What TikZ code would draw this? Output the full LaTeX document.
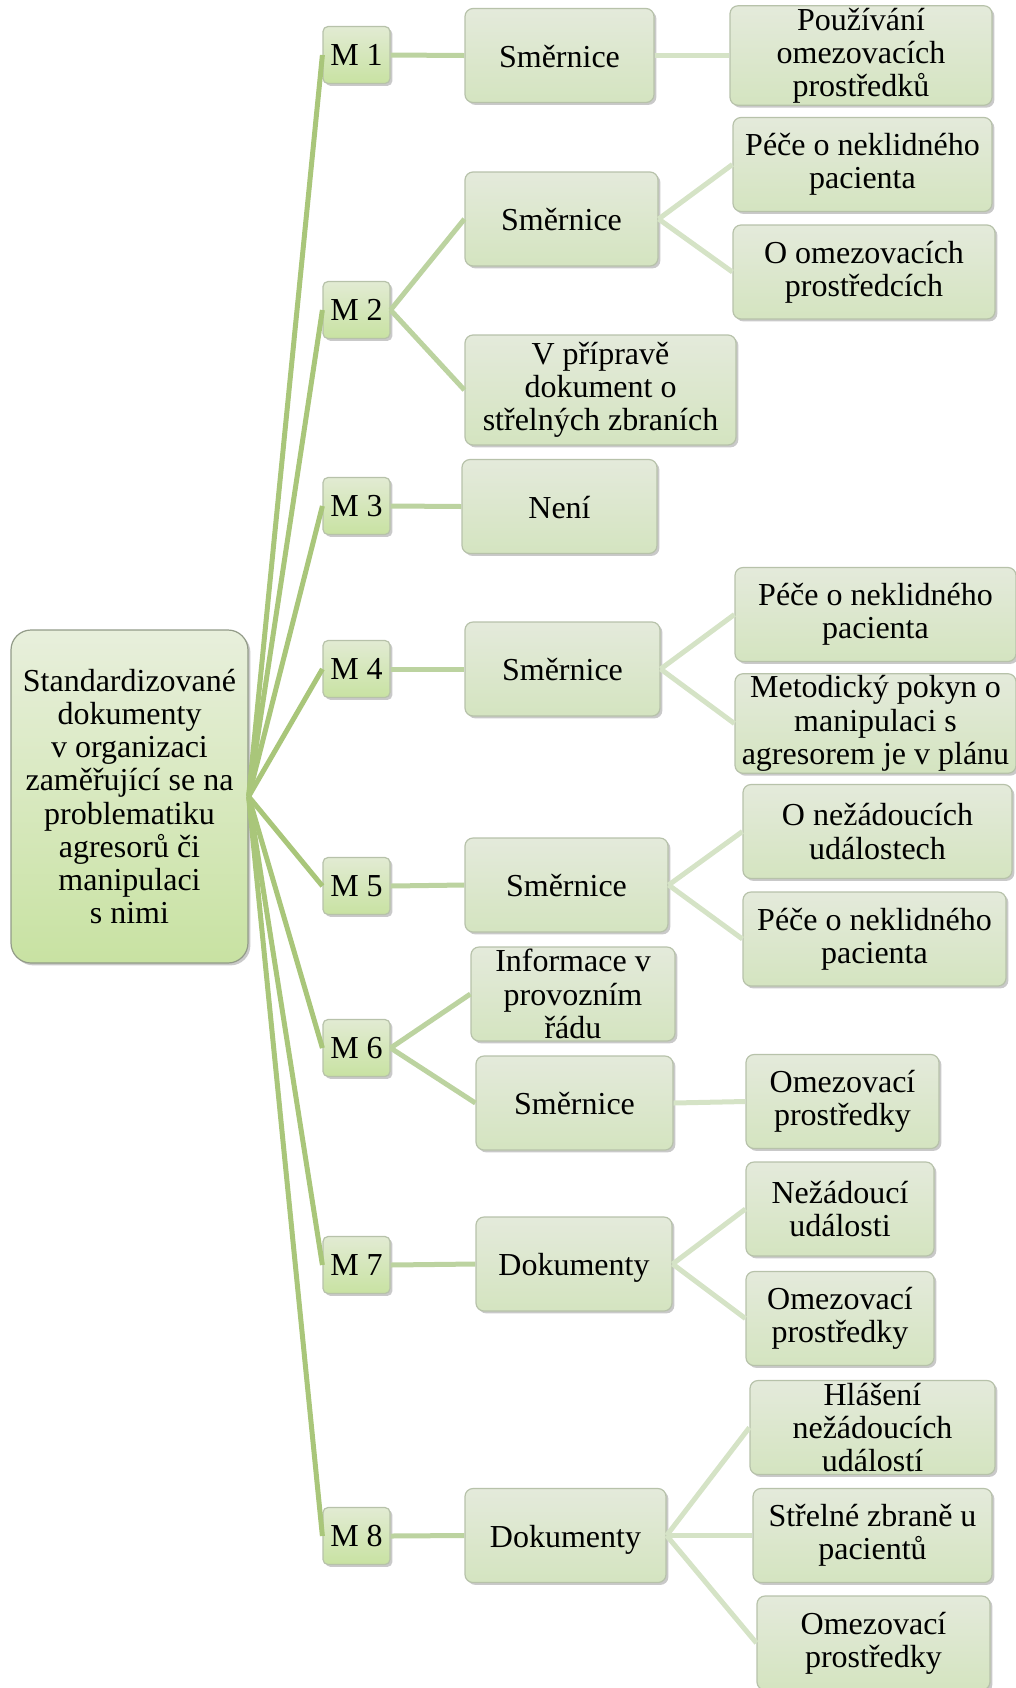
\documentclass[tikz,border=0pt]{standalone}
\usepackage{fontspec}
\setmainfont{Liberation Serif}
\usetikzlibrary{shadows}
\definecolor{rootline}{HTML}{A9C67A}
\definecolor{midline}{HTML}{BCD3A0}
\definecolor{leafline}{HTML}{D5E3C6}
\definecolor{boxtop}{HTML}{E4EADB}
\definecolor{boxbottom}{HTML}{D4E4C0}
\definecolor{boxedge}{HTML}{B7C2AA}
\definecolor{greentop}{HTML}{E2EBD3}
\definecolor{greenbottom}{HTML}{C8E2A2}
\begin{document}
\begin{tikzpicture}[x=0.5pt, y=-0.5pt,
	txt/.style={font=\fontsize{16}{16.6}\selectfont, align=center, inner sep=1pt},
	box/.style={txt, draw=boxedge, line width=0.6pt, rounded corners=4pt,
		top color=boxtop, bottom color=boxbottom, minimum height=47pt,
		drop shadow={shadow xshift=1.2pt, shadow yshift=-1.2pt, opacity=0.3, fill=black!70}},
	oneline/.style={text height=11.8pt, text depth=0pt},
	mbox/.style={box, top color=greentop, bottom color=greenbottom, rounded corners=2.5pt,
		minimum width=33.5pt, minimum height=28.5pt},
	rootbox/.style={box, top color=greentop!80!white, bottom color=greenbottom, rounded corners=10pt,
		draw=boxedge!80!black, minimum width=118.5pt, minimum height=166.5pt},
	rootedge/.style={draw=rootline, line width=2.5pt},
	midedge/.style={draw=midline, line width=2.5pt},
	leafedge/.style={draw=leafline, line width=2.5pt}]
	  \useasboundingbox (0,0) rectangle (1016,1688);
	  
	  \node[rootbox] (root) at (129.5,796.5) {Standardizované\\dokumenty\\v organizaci\\zaměřující se na\\problematiku\\agresorů či\\manipulaci\\s nimi};
	  
	  \node[mbox] (m1) at (356.5,55) {M 1};
	  \node[mbox] (m2) at (356.5,310) {M 2};
	  \node[mbox] (m3) at (356.5,506) {M 3};
	  \node[mbox] (m4) at (356.5,669) {M 4};
	  \node[mbox] (m5) at (356.5,886) {M 5};
	  \node[mbox] (m6) at (356.5,1048) {M 6};
	  \node[mbox] (m7) at (356.5,1265) {M 7};
	  \node[mbox] (m8) at (356.5,1536) {M 8};
	  
	  \node[box, oneline, minimum width=94.5pt] (a1) at (559.5,55.5) {Směrnice};
	  \node[box, oneline, minimum width=96.5pt] (a2) at (561.5,219) {Směrnice};
	  \node[box, minimum width=135.5pt, minimum height=55pt] (a3) at (600.5,390) {V přípravě\\dokument o\\střelných zbraních};
	  \node[box, oneline, minimum width=97.5pt] (a4) at (559.5,506.5) {Není};
	  \node[box, oneline, minimum width=97.5pt] (a5) at (562.5,669) {Směrnice};
	  \node[box, oneline, minimum width=101.5pt] (a6) at (566.5,885) {Směrnice};
	  \node[box, minimum width=102pt] (a7) at (573,994) {Informace v\\provozním\\řádu};
	  \node[box, oneline, minimum width=98.5pt] (a8) at (574.5,1103) {Směrnice};
	  \node[box, oneline, minimum width=98pt] (a9) at (574,1264) {Dokumenty};
	  \node[box, oneline, minimum width=100.5pt] (a10) at (565.5,1535.5) {Dokumenty};
	  
	  \node[box, minimum width=131pt] (b1) at (861,55.5) {Používání\\omezovacích\\prostředků};
	  \node[box, minimum width=129.5pt] (b2) at (862.5,164.5) {Péče o neklidného\\pacienta};
	  \node[box, minimum width=131pt] (b3) at (864,272) {O omezovacích\\prostředcích};
	  \node[box, minimum width=140.5pt] (b4) at (875.5,614.5) {Péče o neklidného\\pacienta};
	  \node[box, minimum width=140.5pt] (b5) at (875.5,723.5) {Metodický pokyn o\\manipulaci s\\agresorem je v plánu};
	  \node[box, minimum width=134.5pt] (b6) at (877.5,831.5) {O nežádoucích\\událostech};
	  \node[box, minimum width=131.5pt] (b7) at (874.5,939) {Péče o neklidného\\pacienta};
	  \node[box, minimum width=96.5pt] (b8) at (842.5,1101.5) {Omezovací\\prostředky};
	  \node[box, minimum width=94pt] (b9) at (840,1209) {Nežádoucí\\události};
	  \node[box, minimum width=94pt] (b10) at (840,1318.5) {Omezovací\\prostředky};
	  \node[box, minimum width=122.5pt] (b11) at (872.5,1427.5) {Hlášení\\nežádoucích\\událostí};
	  \node[box, minimum width=119.5pt] (b12) at (872.5,1535.5) {Střelné zbraně u\\pacientů};
	  \node[box, minimum width=116.5pt] (b13) at (873.5,1643) {Omezovací\\prostředky};
	  
	  \foreach \m in {m1,m2,m3,m4,m5,m6,m7,m8}
	    \draw[rootedge] (root.east) -- (\m.west);
	  
	  \draw[midedge] (m1.east) -- (a1.west);
	  \draw[midedge] (m2.east) -- (a2.west);
	  \draw[midedge] (m2.east) -- (a3.west);
	  \draw[midedge] (m3.east) -- (a4.west);
	  \draw[midedge] (m4.east) -- (a5.west);
	  \draw[midedge] (m5.east) -- (a6.west);
	  \draw[midedge] (m6.east) -- (a7.west);
	  \draw[midedge] (m6.east) -- (a8.west);
	  \draw[midedge] (m7.east) -- (a9.west);
	  \draw[midedge] (m8.east) -- (a10.west);
	  
	  \draw[leafedge] (a1.east) -- (b1.west);
	  \draw[leafedge] (a2.east) -- (b2.west);
	  \draw[leafedge] (a2.east) -- (b3.west);
	  \draw[leafedge] (a5.east) -- (b4.west);
	  \draw[leafedge] (a5.east) -- (b5.west);
	  \draw[leafedge] (a6.east) -- (b6.west);
	  \draw[leafedge] (a6.east) -- (b7.west);
	  \draw[leafedge] (a8.east) -- (b8.west);
	  \draw[leafedge] (a9.east) -- (b9.west);
	  \draw[leafedge] (a9.east) -- (b10.west);
	  \draw[leafedge] (a10.east) -- (b11.west);
	  \draw[leafedge] (a10.east) -- (b12.west);
	  \draw[leafedge] (a10.east) -- (b13.west);
	\end{tikzpicture}
\end{document}
